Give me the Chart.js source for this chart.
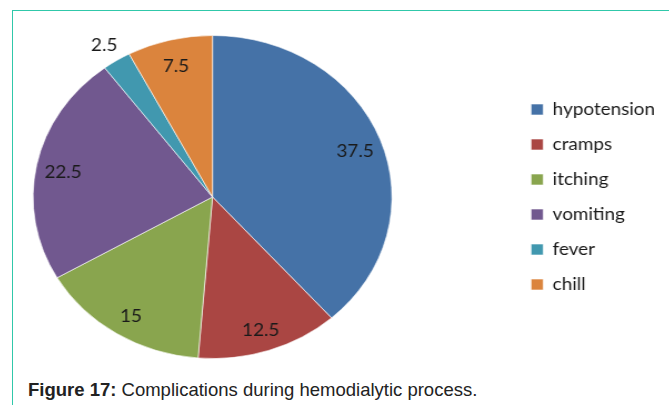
<!DOCTYPE html>
<html>
<head>
<meta charset="utf-8">
<script src="https://cdn.jsdelivr.net/npm/chart.js@4/dist/chart.umd.min.js"></script>
<style>
    html, body { margin: 0; padding: 0; background: #fff; overflow: hidden; }
    body { width: 669px; height: 405px; position: relative; }
    .frame {
        position: absolute; left: 12px; top: 10px; right: -5px; bottom: -5px;
        border-top: 1px solid #30c8aa; border-left: 1px solid #30c8aa;
    }
    /* source figure is stretched sideways, so the chart is too */
    .chart-box {
        position: absolute; left: -86px; top: 10px; width: 700px; height: 355px;
        transform: scaleX(1.111); transform-origin: 0 0;
    }
    .caption {
        position: absolute; left: 28px; top: 379px;
        font: 18.5px "Liberation Sans", Arial, sans-serif; color: #222; white-space: nowrap;
    }
</style>
</head>
<body>
<div class="frame"></div>
<div class="chart-box"><canvas id="pie-chart"></canvas></div>
<div class="caption"><b>Figure 17:</b> Complications during hemodialytic process.</div>

<script>
    "use strict";

    // data
    const categories = ["hypotension", "cramps", "itching", "vomiting", "fever", "chill"];
    const values = [37.5, 12.5, 15, 22.5, 2.5, 7.5];
    const colors = ["#4572a7", "#aa4643", "#89a54e", "#71588f", "#4198af", "#db843d"];

    // value labels on the slices (small ones go outside)
    const sliceLabels = {
        id: 'sliceLabels',
        afterDatasetsDraw(chart) {
            const ctx = chart.ctx;
            const meta = chart.getDatasetMeta(0);
            const total = values.reduce((a, b) => a + b, 0);
            ctx.save();
            ctx.font = '17px Lato';
            ctx.fillStyle = '#1a1a1a';
            ctx.textAlign = 'center';
            ctx.textBaseline = 'middle';
            meta.data.forEach((arc, i) => {
                const p = arc.getProps(['x', 'y', 'startAngle', 'endAngle', 'outerRadius'], true);
                const mid = (p.startAngle + p.endAngle) / 2;
                const k = values[i] / total < 0.05 ? 1.13 : 0.85;
                ctx.fillText(String(values[i]),
                    p.x + Math.cos(mid) * p.outerRadius * k,
                    p.y + Math.sin(mid) * p.outerRadius * k + 3);
            });
            ctx.restore();
        }
    };

    const ctx1 = document.getElementById('pie-chart').getContext('2d');
    const myChart1 = new Chart(ctx1, {
        type: 'pie',
        data: {
            labels: categories,
            datasets: [{
                data: values,
                backgroundColor: colors,
                borderColor: 'rgba(255,255,255,0.6)',
                borderWidth: 1
            }]
        },
        options: {
            responsive: true,
            maintainAspectRatio: false,
            animation: false,
            layout: {
                padding: { left: 0, right: 23, top: 25, bottom: 6 }
            },
            plugins: {
                tooltip: { enabled: false },
                legend: {
                    position: 'right',
                    labels: {
                        boxWidth: 11,
                        boxHeight: 11,
                        padding: 18,
                        color: '#1a1a1a',
                        font: { family: 'Lato', size: 17 }
                    }
                }
            }
        },
        plugins: [sliceLabels]
    });
</script>
</body>
</html>
